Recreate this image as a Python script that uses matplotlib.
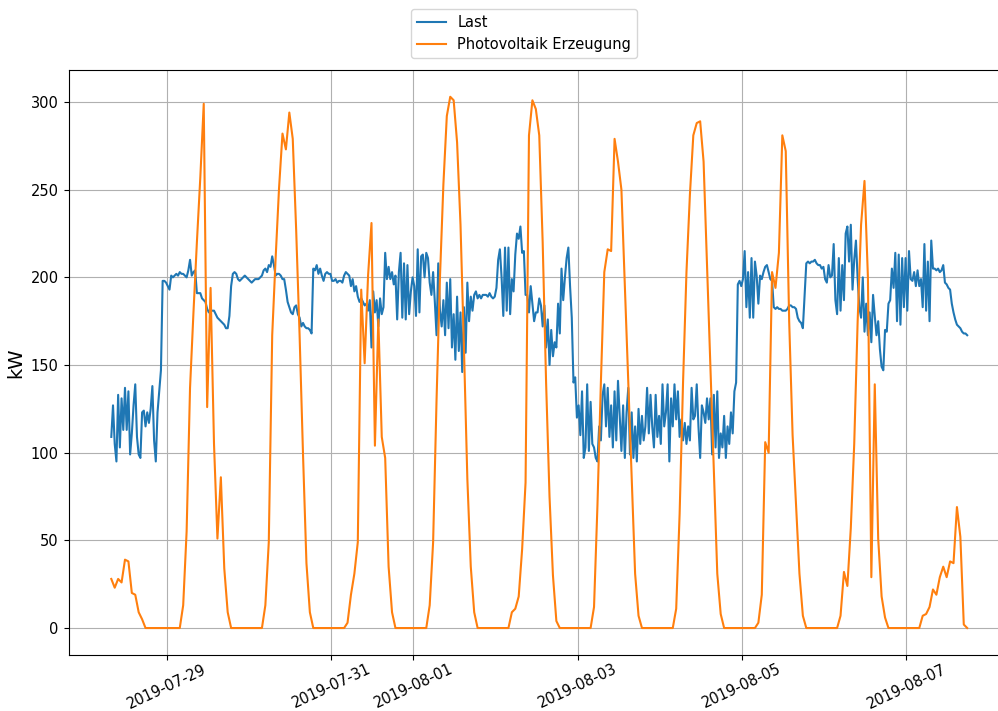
import matplotlib
matplotlib.use("Agg")
import matplotlib.pyplot as plt
import matplotlib.dates as mdates
import pandas as pd

# ---------------- data ----------------
series_start = "2019-07-28 07:45"

# Last (kW), 30-minute steps
last_kw = [
    109, 127, 105, 95, 133, 103, 131, 113, 137, 113, 135, 99, 111, 127, 139, 109, 99, 97, 123, 124,
    115, 123, 117, 125, 138, 107, 95, 123, 135, 147,
    198, 198, 197, 195, 193, 201, 200, 201, 202, 201, 203, 202, 202, 201, 200, 204, 210, 201, 203, 204,
    191, 191, 191, 188, 187, 186, 182, 180, 181, 181, 181, 179, 177, 176, 175, 174, 173, 171, 171, 178,
    195, 202, 203, 202, 199, 198, 199, 200, 201, 200, 199, 198, 197, 198, 199, 199, 199, 200,
    201, 204, 205, 203, 207, 206, 212, 207, 201, 202, 202, 201, 199, 199, 193, 186, 183, 180, 179, 183,
    184, 179, 177, 172, 174, 172, 171, 171, 170, 168,
    205, 204, 207, 202, 205, 201, 198, 202, 203, 202, 202, 198, 198, 199, 197, 198, 198, 197, 201, 203,
    202, 201, 195, 199, 192, 195, 189, 186, 188, 186, 184, 185, 181, 187, 160, 192, 180, 187, 172, 188,
    179, 183, 214, 199, 206, 199, 203, 196, 201, 176, 203, 214, 177, 208, 176, 207, 179,
    192, 200, 195, 178, 216, 180, 212, 213, 200, 214, 211, 197, 190, 203, 186, 167, 208, 181, 172, 187,
    167, 197, 171, 199, 160, 179, 153, 189, 158, 180, 146, 183, 157, 197, 175, 189, 181, 190, 192, 188,
    190, 188, 190, 190, 190, 189, 191, 189, 188, 189, 194, 210, 216, 200, 178, 217, 181, 217, 179, 199,
    192, 213, 225, 222, 229, 214, 215, 190, 190, 180, 195, 185, 175, 180, 180, 188, 184, 172, 184, 160,
    176, 150, 170, 155, 163, 160, 185, 168,
    205, 187, 200, 211, 217, 195, 177, 140, 143, 120, 127, 110, 135, 97, 103, 139, 101, 129, 105, 103,
    97, 95, 115, 107, 133, 139, 115, 137, 109, 127, 103, 135, 107, 141, 121, 101, 127, 97, 123, 137,
    99, 123, 97, 115, 95, 125, 105, 121, 107, 115, 137, 111, 133, 115, 103, 133, 109, 121, 105, 139,
    115, 123, 139, 95, 131, 115, 139, 119, 135, 109, 119, 107, 117, 105, 115, 107, 137, 119, 121, 139,
    115, 97, 127, 123, 117, 131, 119,
    131, 99, 133, 103, 135, 97, 111, 103, 121, 97, 115, 105, 123, 111, 135, 140, 196, 198, 195, 199,
    215, 183, 203, 177, 211, 177, 209, 201, 185, 201, 199, 203, 206, 207, 203, 199, 198, 183, 182, 183,
    182, 182, 181, 181, 181, 182, 184, 184, 183, 183, 182, 177, 175, 174, 171, 190, 208, 209, 208, 209,
    209, 210, 208, 207, 207, 205, 206, 199, 197, 207, 200, 201, 219, 187, 179, 211, 181, 207, 187, 225,
    229, 209, 230, 193, 210, 221, 199, 183,
    177, 200, 169, 185, 167, 180, 163, 190, 178, 167, 175, 159, 149, 147, 170, 169, 185, 187, 205, 194,
    214, 175, 213, 173, 211, 183, 211, 181, 215, 199, 198, 203, 195, 204, 195, 199, 183, 219, 181, 209,
    175, 221, 205, 205, 204, 205, 203, 204, 207, 197, 196, 194, 193, 185, 180, 176, 173, 172, 171, 169,
    168, 168, 167,
]

# Photovoltaik Erzeugung (kW), hourly steps
pv_kw = [
    28, 23, 28, 26, 39, 38, 20, 19, 9, 5,
    0, 0, 0, 0, 0, 0, 0, 0, 0, 0, 0,
    13, 55, 137, 180, 220, 257, 299, 126, 194, 105, 51, 86, 34, 9,
    0, 0, 0, 0, 0, 0, 0, 0, 0, 0,
    13, 49, 167, 211, 251, 282, 273, 294, 279, 227, 167, 99, 37, 9,
    0, 0, 0, 0, 0, 0, 0, 0, 0, 0,
    3, 19, 31, 49, 193, 151, 201, 231, 104, 176, 109, 97, 35, 9,
    0, 0, 0, 0, 0, 0, 0, 0, 0, 0,
    13, 49, 130, 200, 253, 292, 303, 301, 277, 230, 160, 85, 35, 9,
    0, 0, 0, 0, 0, 0, 0, 0, 0, 0,
    9, 11, 18, 45, 83, 281, 301, 296, 281, 220, 140, 75, 30, 4,
    0, 0, 0, 0, 0, 0, 0, 0, 0, 0,
    12, 70, 140, 203, 216, 215, 279, 266, 250, 195, 140, 85, 31, 7,
    0, 0, 0, 0, 0, 0, 0, 0, 0, 0,
    11, 65, 140, 203, 247, 281, 288, 289, 266, 207, 148, 89, 31, 8,
    0, 0, 0, 0, 0, 0, 0, 0, 0, 0,
    3, 19, 106, 100, 203, 194, 214, 281, 272, 175, 110, 70, 31, 7,
    0, 0, 0, 0, 0, 0, 0, 0, 0, 0,
    7, 32, 24, 57, 105, 175, 230, 255, 200, 29, 139, 51, 18, 6,
    0, 0, 0, 0, 0, 0, 0, 0, 0, 0,
    7, 8, 12, 22, 19, 29, 35, 29, 38, 37, 69, 52, 2, 0,
]

series_labels = ["Last", "Photovoltaik Erzeugung"]
y_label = "kW"

last_times = pd.date_range(series_start, periods=len(last_kw), freq="30min")
pv_times = pd.date_range(series_start, periods=len(pv_kw), freq="60min")

# ---------------- figure ----------------
W, H = 998, 711
fig = plt.figure(figsize=(W / 100, H / 100), dpi=100)
ax_left, ax_right, ax_top, ax_bottom = 68.5, 1010.0, 70.2, 654.6
ax = fig.add_axes([ax_left / W, 1 - ax_bottom / H,
                   (ax_right - ax_left) / W, (ax_bottom - ax_top) / H])

l1, = ax.plot(last_times.to_pydatetime(), last_kw, color="C0", lw=1.5, label=series_labels[0])
l2, = ax.plot(pv_times.to_pydatetime(), pv_kw, color="C1", lw=1.5, label=series_labels[1])

ax.xaxis.set_major_locator(mdates.DayLocator(bymonthday=range(1, 32, 2)))
ax.xaxis.set_major_formatter(mdates.DateFormatter("%Y-%m-%d"))
ax.set_yticks([0, 50, 100, 150, 200, 250, 300])
ax.tick_params(labelsize=10.5)
ax.tick_params(axis="x", pad=1.5)
plt.setp(ax.get_xticklabels(), rotation=25)
ax.set_ylabel(y_label, fontsize=14)
ax.grid(True)

fig.legend(handles=[l1, l2], loc="upper center",
           bbox_to_anchor=(524 / W, 1 - 2 / H), fontsize=10.5)

fig.savefig("out.png", dpi=100)
